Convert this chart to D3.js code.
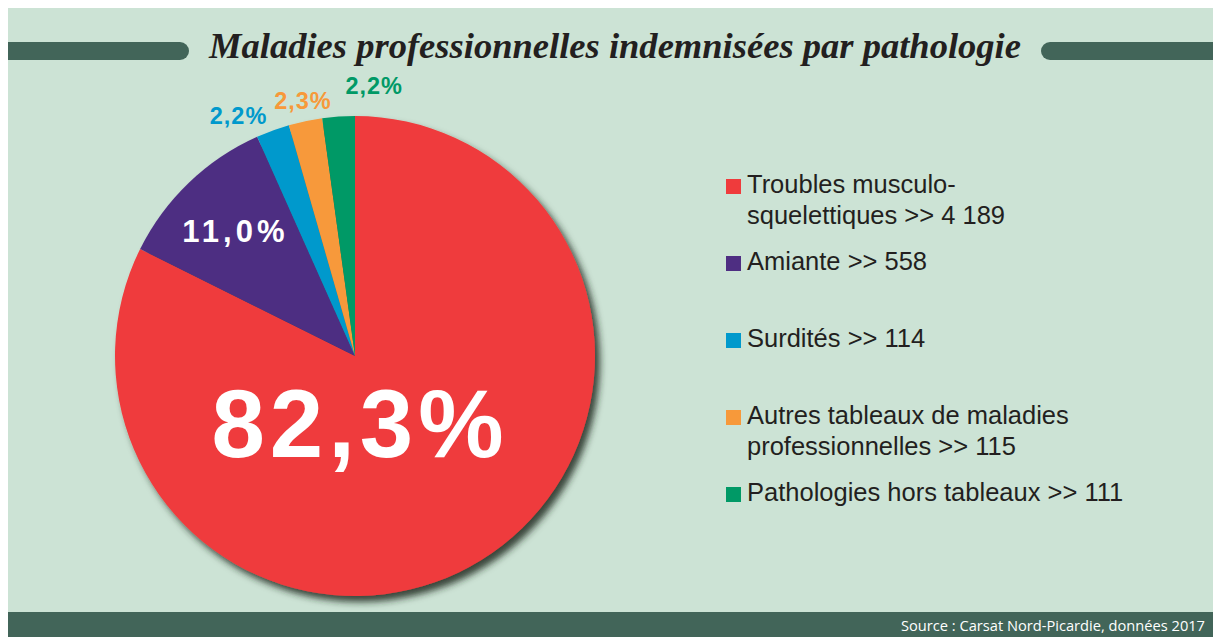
<!DOCTYPE html>
<html>
<head>
<meta charset="utf-8">
<script src="https://cdn.jsdelivr.net/npm/d3@7"></script>
<style>
  html, body { margin: 0; padding: 0; background: #fff; }
  svg { display: block; }
</style>
</head>
<body>
<script>
// data
var categories = ["Troubles musculo-squelettiques", "Amiante", "Surdités",
                  "Autres tableaux de maladies professionnelles", "Pathologies hors tableaux"];
var counts = [4189, 558, 114, 115, 111];
var percentLabels = ["82,3%", "11,0%", "2,2%", "2,3%", "2,2%"];
var legendLines = [
    ["Troubles musculo-", "squelettiques >> 4 189"],
    ["Amiante >> 558"],
    ["Surdités >> 114"],
    ["Autres tableaux de maladies", "professionnelles >> 115"],
    ["Pathologies hors tableaux >> 111"]
];
var colors = ["#ef3b3c", "#4e2e82", "#0099cc", "#f7993a", "#009966"];

var width = 1213, height = 637;
var bg = "#cce3d5", dark = "#426559";

var svg = d3.select("body").append("svg")
    .attr("width", width)
    .attr("height", height);

/*
    Background + frame
 */
svg.append("rect").attr("x", 8).attr("y", 8).attr("width", width - 8).attr("height", height - 8).attr("fill", bg);
svg.append("rect").attr("x", 8).attr("y", 612).attr("width", width - 8).attr("height", 25).attr("fill", dark);

var defs = svg.append("defs");
var shadow = defs.append("filter").attr("id", "shadow")
    .attr("x", "-10%").attr("y", "-10%").attr("width", "125%").attr("height", "125%");
shadow.append("feDropShadow")
    .attr("dx", 5).attr("dy", 6).attr("stdDeviation", 3.5)
    .attr("flood-color", "#1c2a22").attr("flood-opacity", 0.85);

// title with the two rounded bars
svg.append("rect").attr("x", -20).attr("y", 42).attr("width", 209).attr("height", 18).attr("rx", 9).attr("fill", dark);
svg.append("rect").attr("x", 1041).attr("y", 42).attr("width", 200).attr("height", 18).attr("rx", 9).attr("fill", dark);
svg.append("rect").attr("x", 0).attr("y", 0).attr("width", 8).attr("height", height).attr("fill", "#fff");

svg.append("text")
    .attr("x", 209).attr("y", 58)
    .attr("textLength", 812).attr("lengthAdjust", "spacingAndGlyphs")
    .style("font-family", "'Liberation Serif', 'DejaVu Serif', serif")
    .style("font-style", "italic").style("font-weight", "bold")
    .style("font-size", "36px").attr("fill", "#231f20")
    .text("Maladies professionnelles indemnisées par pathologie");

svg.append("text")
    .attr("x", 1205).attr("y", 631).attr("text-anchor", "end")
    .attr("textLength", 304).attr("lengthAdjust", "spacingAndGlyphs")
    .style("font-family", "'Open Sans', sans-serif").style("font-size", "15px")
    .attr("fill", "#fff")
    .text("Source : Carsat Nord-Picardie, données 2017");

/*
    Pie
 */
var cx = 355, cy = 356, R = 240;
var pie = d3.pie().sort(null).value(function (d) { return d; });
var arcs = pie(counts);
var arc = d3.arc().innerRadius(0).outerRadius(R);

var g = svg.append("g").attr("transform", "translate(" + cx + "," + cy + ")");

g.append("g").attr("filter", "url(#shadow)")
    .selectAll("path")
    .data(arcs)
    .enter()
    .append("path")
    .attr("d", arc)
    .attr("fill", function (d, i) { return colors[i]; });

// label placement (radius factor, anchor, nudge) per slice
var labelRadius = [0, 0.72, 1.067, 1.09, 1.13];
var labelAnchor = ["middle", "middle", "end", "middle", "start"];
var labelDx = [5, 0, 0, 2, 9];
var labelSize = [96, 31, 23.5, 23.5, 23.5];
var labelSpacing = [5, 4, 1, 1, 1];

arcs.forEach(function (d, i) {
    var x, y;
    if (i === 0) {
        x = 0; y = 0.42 * R;
    } else {
        var a = (d.startAngle + d.endAngle) / 2;
        var r = R * labelRadius[i];
        x = Math.sin(a) * r;
        y = -Math.cos(a) * r + labelSize[i] * 0.36;
    }
    g.append("text")
        .attr("x", x + labelDx[i]).attr("y", y)
        .attr("text-anchor", labelAnchor[i])
        .style("font-family", "'Liberation Sans', Arial, sans-serif")
        .style("font-weight", "bold")
        .style("font-size", labelSize[i] + "px")
        .style("letter-spacing", labelSpacing[i] + "px")
        .attr("fill", i < 2 ? "#fff" : colors[i])
        .text(percentLabels[i]);
});

/*
    Legend
 */
var legendY = d3.scaleLinear().domain([0, 4]).range([193, 501]);
var legend = svg.append("g").attr("transform", "translate(726,0)");

var items = legend.selectAll(".item")
    .data(categories)
    .enter()
    .append("g")
    .attr("class", "item")
    .attr("transform", function (d, i) { return "translate(0," + legendY(i) + ")"; });

items.append("rect")
    .attr("x", 0).attr("y", -14).attr("width", 15).attr("height", 15)
    .attr("fill", function (d, i) { return colors[i]; });

items.append("text")
    .attr("x", 21)
    .style("font-family", "'Liberation Sans', Arial, sans-serif")
    .style("font-size", "25.5px")
    .attr("fill", "#231f20")
    .each(function (d, i) {
        var t = d3.select(this);
        legendLines[i].forEach(function (line, j) {
            t.append("tspan").attr("x", 21).attr("y", j * 31).text(line);
        });
    });
</script>
</body>
</html>
